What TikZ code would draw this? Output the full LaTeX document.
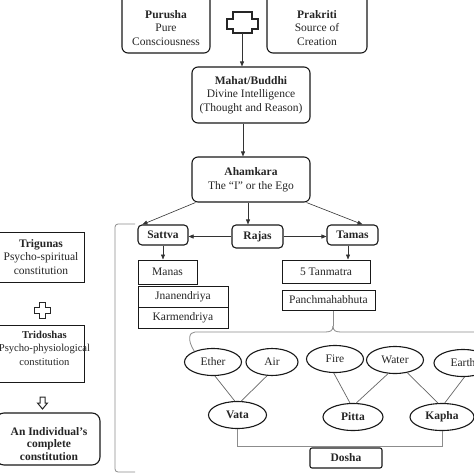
\documentclass[tikz,border=0pt]{standalone}
\usepackage{fontspec}
\setmainfont{Liberation Serif}
\usetikzlibrary{arrows.meta,shapes.geometric}
\begin{document}
\begin{tikzpicture}[x=1pt,y=-1pt,
  every node/.style={font=\fontsize{11.5}{13.5}\selectfont, text=black!85},
  rbox/.style={draw=black!90, line width=1.1pt, rounded corners=6pt, inner sep=0pt},
  sbox/.style={draw=black!90, line width=1pt, inner sep=0pt},
  txt/.style={align=center, inner sep=0pt},
  ell/.style={draw=black!90, ellipse, line width=1.1pt, inner sep=0pt},
  arr/.style={-{Triangle[length=5pt,width=4pt]}, line width=0.6pt, draw=black!80},
  ln/.style={line width=0.7pt, draw=black!60},
  gl/.style={line width=0.8pt, draw=black!45},
  sym/.style={line width=1.2pt, draw=black!85, line join=miter},
]
\useasboundingbox (0,0) rectangle (474,474);
\fill[white] (0,0) rectangle (474,474);

% top row
\node[rbox, minimum width=88pt, minimum height=66pt] (purusha) at (166,20) {};
\node[txt] (purushaT) at (166,28) {\textbf{Purusha}\\Pure\\Consciousness};
\node[rbox, minimum width=100pt, minimum height=66pt] (prakriti) at (317,20) {};
\node[txt] (prakritiT) at (317,28) {\textbf{Prakriti}\\Source of\\Creation};
\draw[sym] (233,12) -- (252,12) -- (252,19) -- (258,19) -- (258,29) -- (252,29) -- (252,33)
  -- (233,33) -- (233,29) -- (227,29) -- (227,19) -- (233,19) -- cycle;
\coordinate (plusb) at (242,33);

\node[rbox, txt, minimum width=118pt, minimum height=56pt] (mahat) at (251,95)
  {\textbf{Mahat/Buddhi}\\Divine Intelligence\\(Thought and Reason)};
\node[rbox, txt, minimum width=118pt, minimum height=45pt] (ahamkara) at (251,179.5)
  {\textbf{Ahamkara}\\The “I” or the Ego};
\draw[arr] (plusb) -- (plusb |- mahat.north);
\draw[arr] ([xshift=-8pt]mahat.south) -- ([xshift=-8pt]ahamkara.north);

% gunas
\node[rbox, rounded corners=4pt, minimum width=50pt, minimum height=20pt] (sattva) at (163,235) {\textbf{Sattva}};
\node[rbox, rounded corners=4pt, minimum width=51pt, minimum height=23pt] (rajas) at (257.5,236.5) {\textbf{Rajas}};
\node[rbox, rounded corners=4pt, minimum width=51pt, minimum height=20pt] (tamas) at (352.5,235) {\textbf{Tamas}};
\draw[arr] ([xshift=4pt]ahamkara.south west) -- ([xshift=5pt]sattva.north west);
\draw[arr] ([xshift=-4pt]ahamkara.south east) -- ([xshift=10pt]tamas.north);
\draw[arr] ([xshift=-9.5pt]rajas.north |- ahamkara.south) -- ([xshift=-9.5pt]rajas.north);
\draw[arr] (rajas.west) -- (rajas.west -| sattva.east);
\draw[arr] (rajas.east) -- (rajas.east -| tamas.west);

\node[sbox, minimum width=59pt, minimum height=24pt] (manas) at (167.5,272) {Manas};
\node[sbox, minimum width=90pt, minimum height=21pt] (jnan) at (183,296.5) {Jnanendriya};
\node[sbox, minimum width=90pt, minimum height=21pt] (karm) at (183,317.5) {Karmendriya};
\draw[arr] (sattva.south) -- (sattva.south |- manas.north);

\node[sbox, minimum width=88pt, minimum height=23pt] (tanm) at (326,271.5) {5 Tanmatra};
\node[sbox, minimum width=93pt, minimum height=20pt] (pmb) at (328.5,300) {Panchmahabhuta};
\draw[arr] ([xshift=-4.5pt]tamas.south) -- ([xshift=-4.5pt]tamas.south |- tanm.north);

% elements
\node[ell, minimum width=57pt, minimum height=27pt] (ether) at (213,362) {Ether};
\node[ell, minimum width=52pt, minimum height=27pt] (air) at (272,362) {Air};
\node[ell, minimum width=57pt, minimum height=27pt] (fire) at (335,359) {Fire};
\node[ell, minimum width=57pt, minimum height=27pt] (water) at (395,360) {Water};
\node[ell, minimum width=58pt, minimum height=27pt] (earth) at (463,363) {Earth};

% brace
\coordinate (bt) at (333,326);
\coordinate (bright) at (480,332);
\draw[gl] ([xshift=4.5pt]pmb.south) -- (bt);
\draw[gl] (bt) .. controls (333,331) and (330,332) .. (325,332) -- (195,332)
  .. controls (189,332) and (187,340) .. (ether.150);
\draw[gl] (bt) .. controls (333,331) and (336,332) .. (341,332) -- (bright);

% doshas
\node[ell, minimum width=58pt, minimum height=27pt] (vata) at (237.5,415) {\textbf{Vata}};
\node[ell, minimum width=60pt, minimum height=27pt] (pitta) at (353,417) {\textbf{Pitta}};
\node[ell, minimum width=64pt, minimum height=27pt] (kapha) at (442,417) {\textbf{Kapha}};
\draw[ln] (ether.-82) -- (vata.101);
\draw[ln] (air.250) -- (vata.75);
\draw[ln] (fire.265) -- (pitta.102);
\draw[ln] (water.243) -- (pitta.77);
\draw[ln] (water.-46) -- (kapha.106);
\draw[ln] (earth.-84) -- (kapha.79);

\node[rbox, rounded corners=2pt, minimum width=72pt, minimum height=20pt] (dosha) at (346,458) {\textbf{Dosha}};
\draw[gl] (vata.south) -- ([yshift=1pt]vata.south |- dosha.north) -- ([yshift=1pt]kapha.south |- dosha.north) -- (kapha.south);

% big bracket
\draw[gl, rounded corners=3pt] (135,224) -- (115,224) -- (115,472) -- (135,472);

% left column
\node[sbox, minimum width=86pt, minimum height=50pt] (trig) at (41,257) {};
\node[txt] (trigT) at (41,257) {\textbf{Trigunas}\\Psycho-spiritual\\constitution};
\draw[sym, line width=1pt] (39.5,302) -- (45.5,302) -- (45.5,307) -- (50.5,307) -- (50.5,313) -- (45.5,313) -- (45.5,318)
  -- (39.5,318) -- (39.5,313) -- (34.5,313) -- (34.5,307) -- (39.5,307) -- cycle;
\node[sbox, minimum width=86pt, minimum height=57pt] (trid) at (41,353.5) {};
\node[txt, font=\fontsize{10.6}{13.5}\selectfont] (tridT) at (44.5,348) {\textbf{Tridoshas}\\Psycho-physiological\\constitution};
\draw[sym, line width=1pt] (40,397) -- (45,397) -- (45,403) -- (47.5,403) -- (42.5,409) -- (37.5,403) -- (40,403) -- cycle;
\node[rbox, rounded corners=8pt, minimum width=104pt, minimum height=52pt] (indiv) at (48,439) {};
\node[txt, font=\fontsize{11.5}{12.5}\selectfont\bfseries] (indivT) at (49,444) {An Individual’s\\complete\\constitution};
\end{tikzpicture}
\end{document}
